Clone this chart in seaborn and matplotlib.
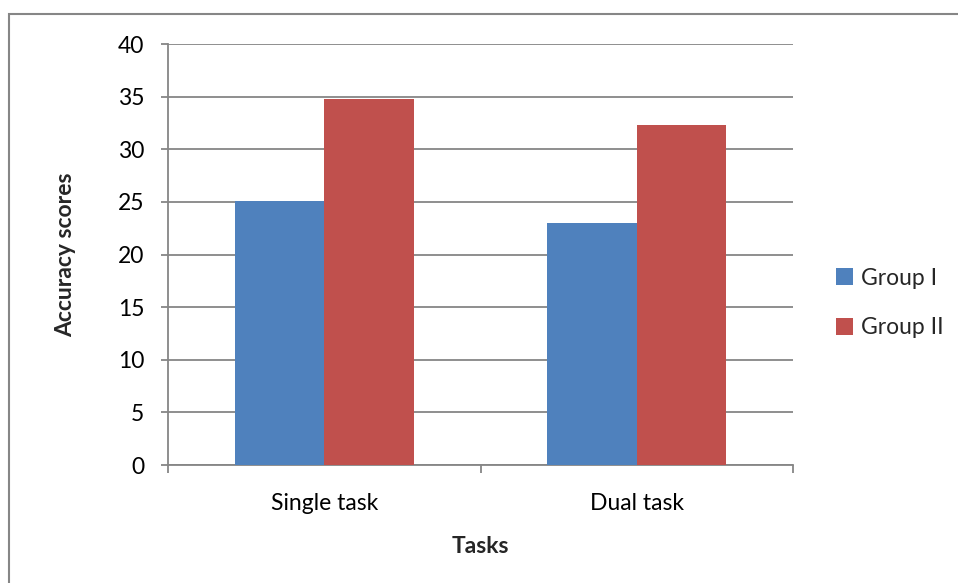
import matplotlib
matplotlib.use("Agg")
import matplotlib.pyplot as plt
from matplotlib.patches import Rectangle
import seaborn as sns
import pandas as pd

tasks = ["Single task", "Dual task"]
groups = ["Group I", "Group II"]
group1_scores = [25.1, 23.0]
group2_scores = [34.8, 32.3]
y_ticks = [0, 5, 10, 15, 20, 25, 30, 35, 40]

df = pd.DataFrame({
    "Tasks": tasks * 2,
    "Group": [groups[0]] * len(tasks) + [groups[1]] * len(tasks),
    "Score": group1_scores + group2_scores,
})

sns.set_theme(style="white")
plt.rcParams["font.family"] = ["Lato", "DejaVu Sans"]

fs = 16.5
grid_col = "#868686"
fig = plt.figure(figsize=(9.58, 5.83), dpi=100)
ax = fig.add_axes([0.1754, 0.2024, 0.6524, 0.7221])

sns.barplot(data=df, x="Tasks", y="Score", hue="Group",
            palette=["#4F81BD", "#C0504D"], width=0.573,
            saturation=1, ax=ax, zorder=3, edgecolor="none")

ax.set_ylim(0, 40)
ax.set_xlim(-0.5, 1.5)
ax.set_yticks(y_ticks)
ax.set_yticklabels([str(t) for t in y_ticks], fontsize=fs, color="black")
ax.yaxis.grid(True, color=grid_col, linewidth=1.3, zorder=0)
ax.set_axisbelow(True)

# category labels sit between boundary ticks
ax.set_xticks([0, 1])
ax.set_xticklabels(tasks, fontsize=fs, color="black")
ax.set_xticks([-0.5, 0.5, 1.5], minor=True)
ax.tick_params(axis="x", which="major", length=0, pad=20)
ax.tick_params(axis="x", which="minor", bottom=True, length=6, width=1.3,
               color=grid_col, direction="out")
ax.tick_params(axis="y", length=5, width=1.3, color=grid_col, direction="out",
               pad=12, left=True)

for side in ["top", "right"]:
    ax.spines[side].set_visible(False)
for side in ["left", "bottom"]:
    ax.spines[side].set_color(grid_col)
    ax.spines[side].set_linewidth(1.3)

ax.set_xlabel("Tasks", fontsize=fs, fontweight="bold", labelpad=16)
ax.set_ylabel("Accuracy scores", fontsize=fs, fontweight="bold", labelpad=30)

leg = ax.legend(loc="center left", bbox_to_anchor=(1.035, 0.385), frameon=False,
                fontsize=fs, handlelength=0.75, handleheight=0.75,
                handletextpad=0.35, labelspacing=1.25)

# outer chart border
fig.add_artist(Rectangle((9 / 958, -0.1), 1.1, (583 - 14) / 583 + 0.1,
                         transform=fig.transFigure, fill=False,
                         edgecolor=grid_col, linewidth=1.5))

fig.savefig("out.png", dpi=100, facecolor="white")
